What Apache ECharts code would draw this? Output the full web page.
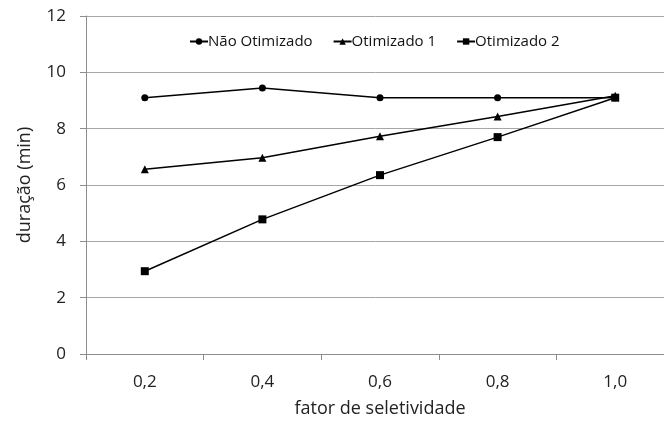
<!DOCTYPE html>
<html><head><meta charset="utf-8">
<script src="https://cdn.jsdelivr.net/npm/echarts@6/dist/echarts.min.js"></script>
<style>html,body{margin:0;padding:0;background:#fff}#c{width:664px;height:421px}</style>
</head><body><div id="c"></div>
<script>
const categories = ['0,2','0,4','0,6','0,8','1,0'];
const naoOtimizado = [9.1, 9.44, 9.1, 9.1, 9.1];
const otimizado1 = [6.56, 6.97, 7.73, 8.43, 9.17];
const otimizado2 = [2.94, 4.78, 6.35, 7.7, 9.1];
const seriesNames = ['Não Otimizado','Otimizado 1','Otimizado 2'];
const font = '"Open Sans", sans-serif';
const chart = echarts.init(document.getElementById('c'));
function mk(name, data, sym, size){
  return {name, type:'line', data, symbol:sym, symbolSize:size, showSymbol:true,
    lineStyle:{color:'#000', width:1.5}, itemStyle:{color:'#000'}, animation:false};
}
chart.setOption({
  animation:false,
  textStyle:{fontFamily:font},
  grid:{left:86, width:588, top:16, height:338, containLabel:false, outerBoundsMode:'none'},
  legend:{top:29, left:184, itemWidth:18, itemHeight:8, itemGap:20,
    textStyle:{fontFamily:font, fontSize:15, color:'#111', padding:[0,0,0,-5]},
    data:seriesNames},
  xAxis:{type:'category', data:categories, boundaryGap:true,
    name:'fator de seletividade', nameLocation:'middle', nameGap:46,
    nameTextStyle:{fontFamily:font, fontSize:18, color:'#222'},
    axisLine:{lineStyle:{color:'#8c8c8c', width:1}},
    axisTick:{show:true, length:6, lineStyle:{color:'#8c8c8c'}},
    axisLabel:{fontFamily:font, fontSize:17, color:'#222', margin:20},
    splitLine:{show:false}},
  yAxis:{type:'value', min:0, max:12, interval:2,
    name:'duração (min)', nameLocation:'middle', nameGap:52, nameRotate:90,
    nameTextStyle:{fontFamily:font, fontSize:18, color:'#222'},
    axisLine:{show:true, lineStyle:{color:'#8c8c8c', width:1}},
    axisTick:{show:true, length:6, lineStyle:{color:'#8c8c8c'}},
    axisLabel:{fontFamily:font, fontSize:17, color:'#222', margin:20},
    splitLine:{lineStyle:{color:'#a6a6a6', width:1}}},
  series:[
    mk(seriesNames[0], naoOtimizado, 'circle', 7),
    mk(seriesNames[1], otimizado1, 'triangle', 8),
    mk(seriesNames[2], otimizado2, 'rect', 8)
  ]
});
</script></body></html>
